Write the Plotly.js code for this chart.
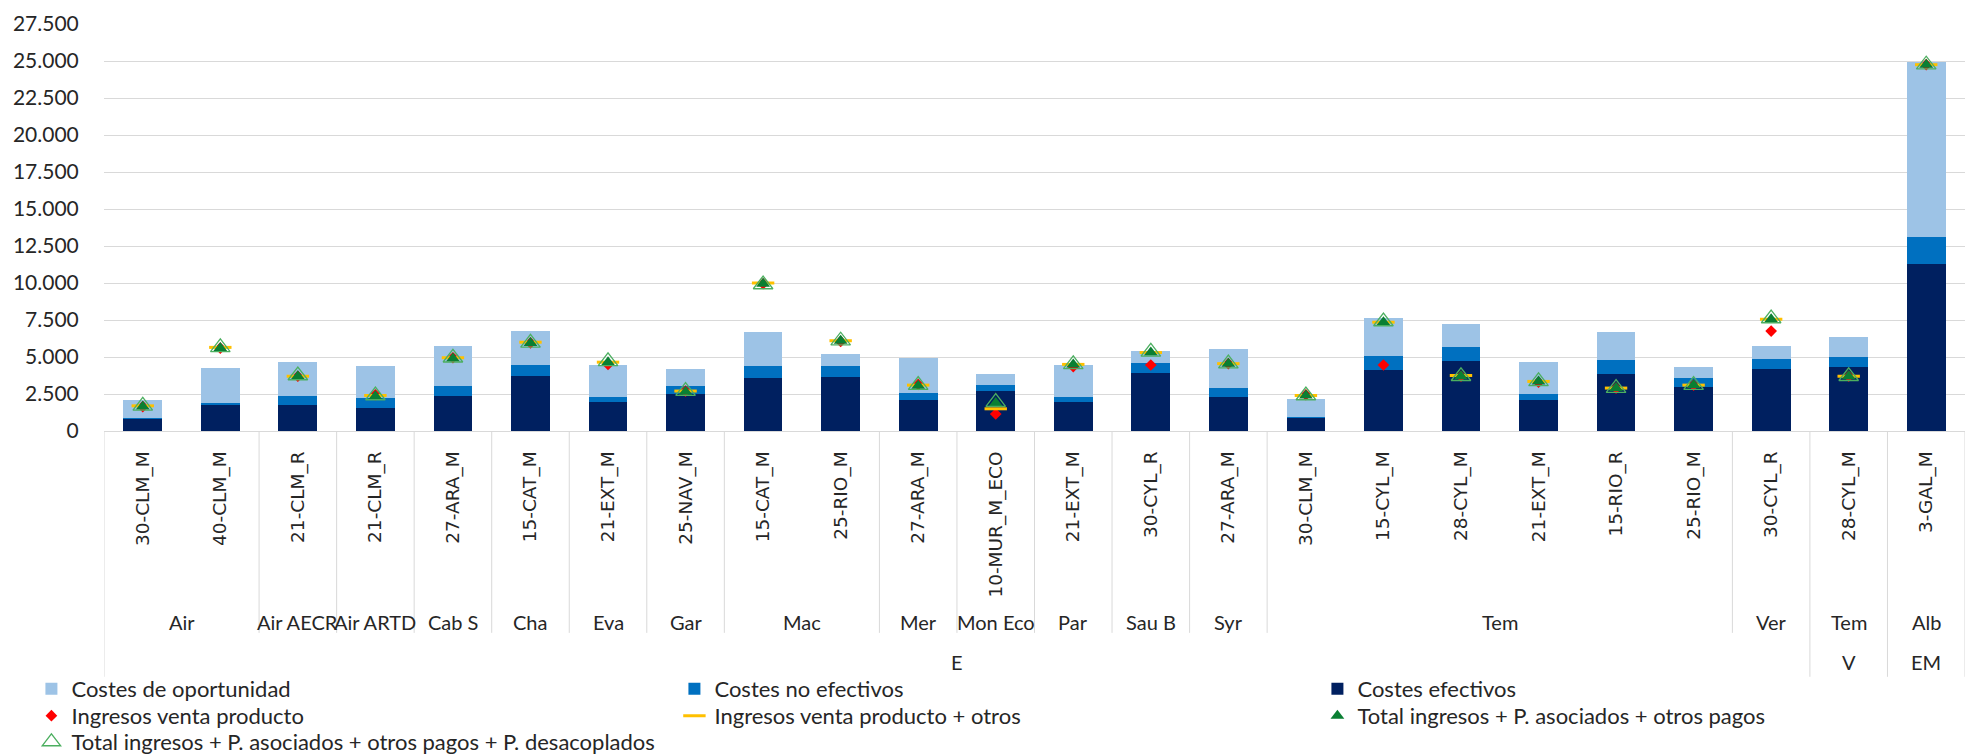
<!DOCTYPE html>
<html><head><meta charset="utf-8">
<script src="https://cdn.plot.ly/plotly-3.0.1.min.js"></script>
<style>html,body{margin:0;padding:0;background:#fff}</style>
</head><body><div id="chart" style="width:1965px;height:755px"></div>
<script>
// Category levels
const explotaciones = ["30-CLM_M","40-CLM_M","21-CLM_R","21-CLM_R","27-ARA_M","15-CAT_M","21-EXT_M","25-NAV_M","15-CAT_M","25-RIO_M","27-ARA_M","10-MUR_M_ECO","21-EXT_M","30-CYL_R","27-ARA_M","30-CLM_M","15-CYL_M","28-CYL_M","21-EXT_M","15-RIO_R","25-RIO_M","30-CYL_R","28-CYL_M","3-GAL_M"];
const variedades = ["Air","Air","Air AECR","Air ARTD","Cab S","Cha","Eva","Gar","Mac","Mac","Mer","Mon Eco","Par","Sau B","Syr","Tem","Tem","Tem","Tem","Tem","Tem","Ver","Tem","Alb"];
const tipos = ["E","E","E","E","E","E","E","E","E","E","E","E","E","E","E","E","E","E","E","E","E","E","V","EM"];

// Series values
const costesEfectivos   = [830,1730,1730,1580,2390,3720,1960,2500,3580,3670,2120,2700,1960,3940,2320,860,4120,4750,2120,3870,2970,4210,4350,11260];
const costesNoEfectivos = [50,160,660,650,650,720,360,540,790,700,470,430,360,660,610,90,950,930,360,950,610,660,630,1830];
const costesOportunidad = [1220,2390,2270,2190,2680,2320,2160,1130,2320,810,2370,740,2160,810,2630,1210,2540,1530,2210,1870,750,900,1350,11850];
const ingresosVenta          = [1650,5600,3700,2450,4950,5950,4500,2700,9950,6050,3150,1150,4350,4460,4550,2450,4460,3700,3300,2900,3100,6750,3700,24750];
const ingresosVentaOtros     = [1700,5650,3700,2400,4950,6000,4650,2700,10000,6100,3100,1500,4500,5300,4550,2400,7350,3750,3350,2900,3100,7550,3700,24750];
const totalIngresos          = [1650,5600,3700,2350,4900,5950,4650,2650,9950,6100,3050,1900,4500,5300,4550,2400,7350,3700,3350,2900,3100,7550,3700,24750];
const totalIngresosDesacopl  = [1700,5650,3750,2400,4950,5950,4700,2700,9900,6100,3100,1950,4500,5350,4550,2400,7400,3700,3350,2900,3100,7600,3700,24750];

const idx = explotaciones.map((_, i) => i);
const txt = '#262626';
const fontMain = 'Lato, "Open Sans", sans-serif';

const traces = [
  {type:'bar', name:'Costes efectivos', x:idx, y:costesEfectivos, marker:{color:'#002060'}, legend:'legend', legendrank:3},
  {type:'bar', name:'Costes no efectivos', x:idx, y:costesNoEfectivos, marker:{color:'#0070C0'}, legend:'legend', legendrank:2},
  {type:'bar', name:'Costes de oportunidad', x:idx, y:costesOportunidad, marker:{color:'#9DC3E6'}, legend:'legend', legendrank:1},
  {type:'scatter', mode:'markers', name:'Ingresos venta producto', x:idx, y:ingresosVenta,
   marker:{symbol:'diamond', size:9, color:'#FF0000'}, legend:'legend2', legendrank:4},
  {type:'scatter', mode:'markers', name:'Ingresos venta producto + otros', x:idx, y:ingresosVentaOtros,
   marker:{symbol:'line-ew', size:16, line:{color:'#FFC000', width:3}}, legend:'legend2', legendrank:5},
  {type:'scatter', mode:'markers', name:'Total ingresos + P. asociados + otros pagos', x:idx, y:totalIngresos,
   marker:{symbol:'triangle-up', size:12, color:'#0A7F33'}, legend:'legend2', legendrank:6},
  {type:'scatter', mode:'markers', name:'Total ingresos + P. asociados + otros pagos + P. desacoplados', x:idx, y:totalIngresosDesacopl,
   marker:{symbol:'triangle-up-open', size:17, color:'#4CAF60', line:{width:1.3}}, legend:'legend3', legendrank:7}
];

// Group labels and dividers computed from the category arrays
const shapes = [];
const annotations = [];
const yLvl2Line = -0.496, yLvl3Line = -0.604;
const yLvl2Text = -0.469, yLvl3Text = -0.568;
function groups(keyFn) {
  const out = [];
  let start = 0;
  for (let i = 1; i <= idx.length; i++) {
    if (i === idx.length || keyFn(i) !== keyFn(start)) { out.push([start, i - 1]); start = i; }
  }
  return out;
}
const g2 = groups(i => tipos[i] + '|' + variedades[i]);
const g3 = groups(i => tipos[i]);
g2.forEach(([a, b]) => {
  annotations.push({xref:'x', yref:'paper', x:(a + b) / 2, y:yLvl2Text, text:variedades[a], showarrow:false,
    xanchor:'center', yanchor:'middle', font:{family:fontMain, size:20, color:txt}});
});
g3.forEach(([a, b]) => {
  annotations.push({xref:'x', yref:'paper', x:(a + b) / 2, y:yLvl3Text, text:tipos[a], showarrow:false,
    xanchor:'center', yanchor:'middle', font:{family:fontMain, size:20, color:txt}});
});
const lvl3Bounds = new Set([ -0.5 ]);
g3.forEach(([a, b]) => { lvl3Bounds.add(a - 0.5); lvl3Bounds.add(b + 0.5); });
const lvl2Bounds = new Set();
g2.forEach(([a, b]) => { lvl2Bounds.add(a - 0.5); lvl2Bounds.add(b + 0.5); });
lvl2Bounds.forEach(v => {
  if (!lvl3Bounds.has(v)) shapes.push({type:'line', xref:'x', yref:'paper', x0:v, x1:v, y0:0, y1:yLvl2Line, line:{color:'#D9D9D9', width:1}});
});
lvl3Bounds.forEach(v => {
  shapes.push({type:'line', xref:'x', yref:'paper', x0:v, x1:v, y0:0, y1:yLvl3Line, line:{color:'#D9D9D9', width:1}});
});

const legendBase = {orientation:'h', x:-0.039, xanchor:'left', yanchor:'middle',
  entrywidth:598, entrywidthmode:'pixels', traceorder:'normal',
  font:{family:fontMain, size:22, color:txt}, itemwidth:30, bgcolor:'rgba(0,0,0,0)'};

const layout = {
  width:1965, height:755,
  margin:{l:104, r:0, t:24, b:324, autoexpand:false},
  paper_bgcolor:'#fff', plot_bgcolor:'#fff',
  barmode:'stack', bargap:0.5,
  separators:',.',
  hovermode:false,
  showlegend:true,
  xaxis:{range:[-0.5, 23.5], tickmode:'array', tickvals:idx, ticktext:explotaciones, tickangle:-90,
    tickfont:{family:'"DejaVu Sans", Verdana, sans-serif', size:18.5, color:txt},
    showgrid:false, zeroline:false, showline:true, linecolor:'#D9D9D9', linewidth:1,
    ticks:'outside', ticklen:12, tickcolor:'rgba(0,0,0,0)'},
  yaxis:{range:[0, 27500], dtick:2500, tick0:0, tickformat:',d',
    tickfont:{family:fontMain, size:21, color:txt},
    gridcolor:'#D9D9D9', gridwidth:1, zeroline:false, showline:false,
    ticks:'outside', ticklen:20, tickcolor:'rgba(0,0,0,0)'},
  legend: Object.assign({}, legendBase, {y:-0.634}),
  legend2: Object.assign({}, legendBase, {y:-0.700}),
  legend3: Object.assign({}, legendBase, {y:-0.764}),
  shapes:shapes,
  annotations:annotations
};

Plotly.newPlot('chart', traces, layout, {displayModeBar:false, staticPlot:true});
</script>
</body></html>
